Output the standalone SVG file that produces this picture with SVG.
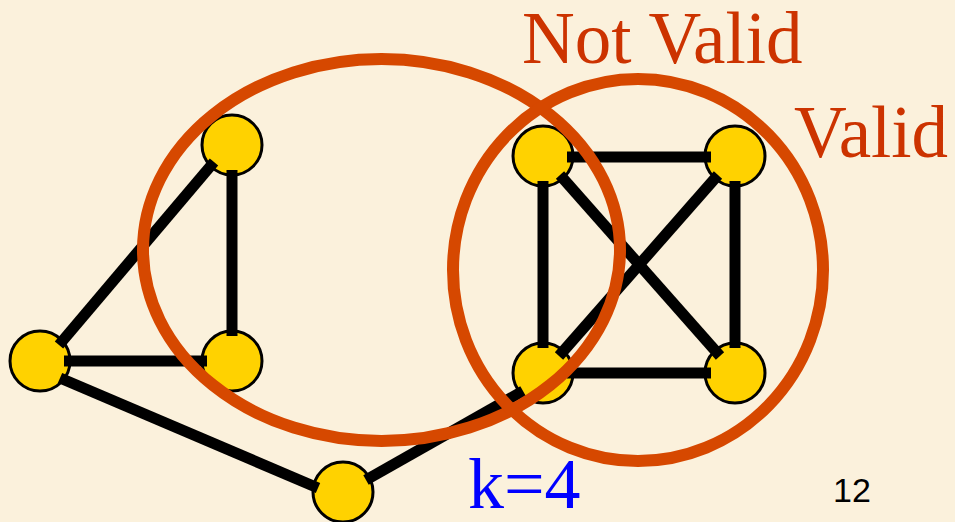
<svg xmlns="http://www.w3.org/2000/svg" width="955" height="522" viewBox="0 0 955 522">
<style>
.node{fill:#FFD200;stroke:#000;stroke-width:3}
.edge{stroke:#000;stroke-width:11;fill:none}
.ring{fill:none;stroke:#D64800;stroke-width:12}
.lbl{font-family:"Liberation Serif","Times New Roman",serif;font-size:73px;fill:#CC3300}
</style>
<rect width="955" height="522" fill="#FBF1DC"/>
<g id="n-top"><circle class="node" cx="232" cy="145" r="30"/></g>
<g id="n-left"><circle class="node" cx="40" cy="361" r="30"/></g>
<g id="n-mid"><circle class="node" cx="232" cy="361" r="30"/></g>
<g id="n-bottom"><circle class="node" cx="343" cy="492" r="30"/></g>
<g id="n-sq-tl"><circle class="node" cx="543" cy="156" r="30"/></g>
<g id="n-sq-tr"><circle class="node" cx="735" cy="156" r="30"/></g>
<g id="n-sq-bl"><circle class="node" cx="543" cy="373" r="30"/></g>
<g id="n-sq-br"><circle class="node" cx="735" cy="373" r="30"/></g>
<g id="edges">
<line class="edge" x1="214" y1="162" x2="59" y2="345"/>
<line class="edge" x1="232" y1="170" x2="232" y2="336"/>
<line class="edge" x1="64" y1="361" x2="207" y2="361"/>
<line class="edge" x1="60" y1="378" x2="318" y2="488"/>
<line class="edge" x1="366" y1="480" x2="523" y2="391"/>
<line class="edge" x1="567" y1="157" x2="711" y2="157"/>
<line class="edge" x1="567" y1="373" x2="711" y2="373"/>
<line class="edge" x1="543" y1="181" x2="543" y2="348"/>
<line class="edge" x1="735" y1="181" x2="735" y2="348"/>
<line class="edge" x1="560" y1="175" x2="720" y2="356"/>
<line class="edge" x1="718" y1="175" x2="559" y2="356"/>
</g>
<g id="rings">
<ellipse class="ring" cx="381.5" cy="250" rx="238.5" ry="191"/>
<ellipse class="ring" cx="638" cy="270" rx="185" ry="191"/>
</g>
<text class="lbl" x="522" y="63">Not Valid</text>
<text class="lbl" x="794" y="157">Valid</text>
<text x="468" y="508" font-family="Liberation Serif,'Times New Roman',serif" font-size="72" fill="#0000FF">k=4</text>
<text x="833" y="502" font-family="Liberation Sans,Arial,sans-serif" font-size="34" fill="#000">12</text>
</svg>
